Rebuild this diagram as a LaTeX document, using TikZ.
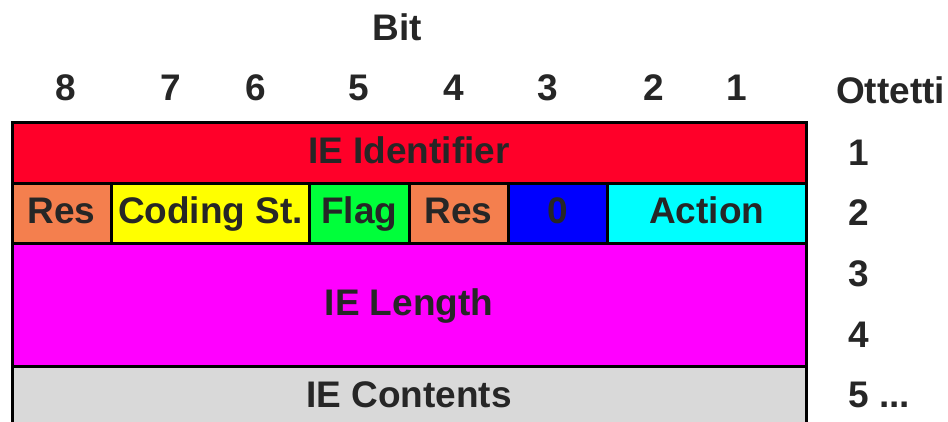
\documentclass[tikz,border=0pt]{standalone}
\usepackage{fontspec}
\setmainfont{Liberation Sans}
\definecolor{txt}{HTML}{262626}
\definecolor{cRed}{HTML}{FF0029}
\definecolor{cOrange}{HTML}{F47F4E}
\definecolor{cYellow}{HTML}{FFFF00}
\definecolor{cGreen}{HTML}{00FF3A}
\definecolor{cBlue}{HTML}{0000FF}
\definecolor{cCyan}{HTML}{00FFFF}
\definecolor{cMagenta}{HTML}{FF00FF}
\definecolor{cGray}{HTML}{D9D9D9}
\begin{document}
\begin{tikzpicture}[x=1pt,y=1pt,
  lbl/.style={font=\fontsize{37}{40}\selectfont\bfseries, text=txt, inner sep=0pt},
  cell/.style={draw=black, line width=3pt, anchor=north west, inner sep=0pt, outer sep=0pt,
    font=\fontsize{37}{40}\selectfont\bfseries, text=txt, minimum height=60pt,
    text height=27pt, text depth=6pt}]
\useasboundingbox (0,0) rectangle (948,-421);
\clip (0,0) rectangle (948,-421);
% header
\node[lbl] (bit) at (397,-27) {Bit};
\node[lbl] (b8) at (66,-88) {8};
\node[lbl] (b7) at (171,-88) {7};
\node[lbl] (b6) at (256,-88) {6};
\node[lbl] (b5) at (359,-88) {5};
\node[lbl] (b4) at (454,-88) {4};
\node[lbl] (b3) at (548,-88) {3};
\node[lbl] (b2) at (654,-88) {2};
\node[lbl] (b1) at (737,-88) {1};
\node[lbl, anchor=west] (ott) at (836,-90) {Ottetti};
% rows
\node[cell, fill=cGray, minimum width=794pt, minimum height=80pt] (cont) at (12,-366) {};
\node[lbl] at (409,-395) {IE Contents};
\node[cell, fill=cMagenta, minimum width=794pt, minimum height=123pt] (len) at (12,-243) {IE Length};
\node[cell, fill=cOrange, minimum width=99.25pt] (res1) at (12,-183) {Res};
\node[cell, fill=cYellow, minimum width=198.5pt] (cod) at (111.25,-183) {Coding St.};
\node[cell, fill=cGreen, minimum width=99.25pt] (flag) at (309.75,-183) {Flag};
\node[cell, fill=cOrange, minimum width=99.25pt] (res2) at (409,-183) {Res};
\node[cell, fill=cBlue, minimum width=99.25pt] (zero) at (508.25,-183) {0};
\node[cell, fill=cCyan, minimum width=198.5pt] (act) at (607.5,-183) {Action};
\node[cell, fill=cRed, minimum width=794pt, minimum height=61pt] (ident) at (12,-122) {IE Identifier};
% octets
\node[lbl, anchor=west] (o1) at (848,-153) {1};
\node[lbl, anchor=west] (o2) at (848,-213) {2};
\node[lbl, anchor=west] (o3) at (848,-274) {3};
\node[lbl, anchor=west] (o4) at (848,-335) {4};
\node[lbl, anchor=west] (o5) at (848,-395) {5 ...};
\end{tikzpicture}
\end{document}
